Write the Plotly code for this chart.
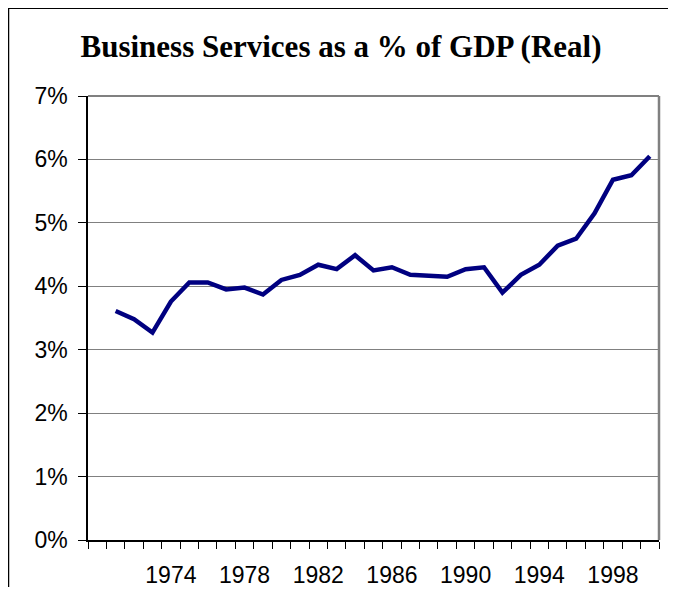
import plotly.graph_objects as go

years = list(range(1971, 2001))
share_pct = [3.61, 3.48, 3.27, 3.76, 4.06, 4.06, 3.95, 3.98, 3.87, 4.10,
             4.18, 4.34, 4.27, 4.49, 4.25, 4.30, 4.18, 4.16, 4.15, 4.27,
             4.30, 3.90, 4.18, 4.34, 4.64, 4.75, 5.15, 5.68, 5.75, 6.05]
x_tick_vals = [1974, 1978, 1982, 1986, 1990, 1994, 1998]
x_tick_text = ["1974", "1978", "1982", "1986", "1990", "1994", "1998"]
y_tick_vals = [0, 1, 2, 3, 4, 5, 6, 7]
y_tick_text = ["0%", "1%", "2%", "3%", "4%", "5%", "6%", "7%"]
title_text = "Business Services as a % of GDP (Real)"

fig = go.Figure()
fig.add_trace(go.Scatter(
    x=years, y=share_pct, mode="lines",
    line=dict(color="#000080", width=4.5),
    hoverinfo="x+y",
))

# page body has an 8px margin, so the figure is sized to fit the window
W, H = 660, 579
ml, mr, mt, mb = 80, 9, 88, 47
pw, ph = W - ml - mr, H - mt - mb

def px_x(p):
    return (p - ml) / pw

def px_y(p):
    return (H - mb - p) / ph

fig.update_layout(
    width=W, height=H,
    margin=dict(l=ml, r=mr, t=mt, b=mb, pad=0, autoexpand=False),
    paper_bgcolor="white", plot_bgcolor="white",
    showlegend=False,
    title=dict(text="<b>" + title_text + "</b>", x=333 / W, xanchor="center",
               y=1 - 38 / H, yanchor="middle",
               font=dict(family="Liberation Serif", size=31, color="black")),
    font=dict(family="Liberation Sans", color="black"),
    xaxis=dict(
        range=[1969.5, 2000.5], automargin=False,
        tickmode="array", tickvals=x_tick_vals, ticktext=x_tick_text,
        ticks="", showgrid=False, zeroline=False,
        showline=True, linecolor="black", linewidth=1.5,
        tickfont=dict(family="Liberation Sans", size=23, color="black"),
        ticklabelstandoff=14,
        minor=dict(ticks="outside", tick0=1969.5, dtick=1, ticklen=7,
                   tickcolor="black", tickwidth=1, showgrid=False),
    ),
    yaxis=dict(
        range=[0, 7], automargin=False,
        tickmode="array", tickvals=y_tick_vals, ticktext=y_tick_text,
        ticks="outside", ticklen=8, tickcolor="black", tickwidth=1,
        showgrid=True, gridcolor="#808080", gridwidth=1.2,
        zeroline=False,
        showline=True, linecolor="black", linewidth=1.5,
        tickfont=dict(family="Liberation Sans", size=23, color="black"),
        ticklabelstandoff=6,
    ),
    shapes=[
        # plot area top and right border (gray)
        dict(type="line", xref="paper", yref="paper", x0=0, x1=1, y0=1, y1=1,
             line=dict(color="#808080", width=2)),
        dict(type="line", xref="paper", yref="paper", x0=1, x1=1, y0=0, y1=1,
             line=dict(color="#808080", width=2.5)),
        # outer chart frame (top and left)
        dict(type="line", xref="paper", yref="paper",
             x0=px_x(0), x1=px_x(W + 5), y0=px_y(0), y1=px_y(0),
             line=dict(color="black", width=2)),
        dict(type="line", xref="paper", yref="paper",
             x0=px_x(0.5), x1=px_x(0.5), y0=px_y(0), y1=px_y(H + 5),
             line=dict(color="black", width=1.5)),
    ],
)

fig.write_html("out.html")
